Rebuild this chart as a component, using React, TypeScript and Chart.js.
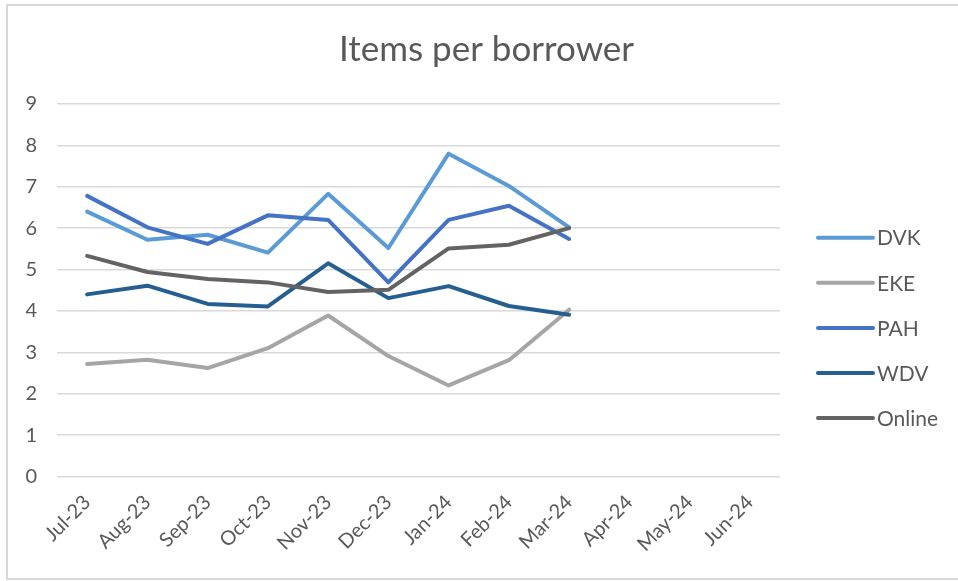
import React, { useEffect, useRef } from "react";
import { Chart, registerables, layouts } from "chart.js";

Chart.register(...registerables);

const categories = ["Jul-23", "Aug-23", "Sep-23", "Oct-23", "Nov-23", "Dec-23", "Jan-24", "Feb-24", "Mar-24", "Apr-24", "May-24", "Jun-24"];
const seriesNames = ["DVK", "EKE", "PAH", "WDV", "Online"];
const dvk = [6.4, 5.72, 5.84, 5.41, 6.83, 5.52, 7.8, 7.02, 6.02, null, null, null];
const eke = [2.72, 2.82, 2.62, 3.1, 3.89, 2.91, 2.2, 2.81, 4.03, null, null, null];
const pah = [6.78, 6.02, 5.62, 6.31, 6.2, 4.69, 6.2, 6.54, 5.74, null, null, null];
const wdv = [4.4, 4.61, 4.17, 4.11, 5.15, 4.31, 4.6, 4.12, 3.91, null, null, null];
const online = [5.33, 4.94, 4.77, 4.69, 4.46, 4.51, 5.51, 5.6, 6.0, null, null, null];
const seriesColors = ["#5B9BD5", "#A5A5A5", "#4472C4", "#255E91", "#636363"];
const yTicks = [0, 1, 2, 3, 4, 5, 6, 7, 8, 9];

const TEXT = "#595959";
const FONT = "Lato, 'Open Sans', sans-serif";
const LEGEND_SPACE = 187;

const frame = {
  id: "frame",
  beforeDraw(chart: any) {
    const { ctx, width, height } = chart;
    ctx.save();
    ctx.fillStyle = "#ffffff";
    ctx.fillRect(0, 0, width, height);
    ctx.strokeStyle = "#d9d9d9";
    ctx.lineWidth = 2;
    ctx.strokeRect(1, 1, width + 10, height - 3);
    ctx.restore();
  },
};

// reserves room at the right of the plot for the legend (title stays centred on the whole chart)
const legendSpace = {
  id: "legendSpace",
  beforeInit(chart: any) {
    const box: any = {
      position: "right",
      weight: 100,
      fullSize: false,
      options: {},
      left: 0, top: 0, right: 0, bottom: 0, width: LEGEND_SPACE, height: 0,
      isHorizontal() { return false; },
      update(_maxW: number, maxH: number) { this.width = LEGEND_SPACE; this.height = maxH; },
      getPadding() { return { left: 0, right: 0, top: 0, bottom: 0 }; },
      draw() {},
    };
    layouts.addBox(chart, box);
  },
};

const sideLegend = {
  id: "sideLegend",
  afterDraw(chart: any) {
    const { ctx, chartArea } = chart;
    const ds = chart.data.datasets;
    const x0 = chartArea.right + 38;
    const lineLen = 55;
    const yStart = 233.7;
    const step = 45.1;
    ctx.save();
    ctx.font = `21px ${FONT}`;
    ctx.textBaseline = "middle";
    ctx.textAlign = "left";
    ds.forEach((d: any, i: number) => {
      const y = yStart + i * step;
      ctx.strokeStyle = d.borderColor;
      ctx.lineWidth = 4;
      ctx.lineCap = "round";
      ctx.beginPath();
      ctx.moveTo(x0, y);
      ctx.lineTo(x0 + lineLen, y);
      ctx.stroke();
      ctx.fillStyle = TEXT;
      ctx.fillText(d.label, x0 + lineLen + 4, y + 1);
    });
    ctx.restore();
  },
};

export default function App() {
  const ref = useRef<HTMLCanvasElement | null>(null);
  useEffect(() => {
    if (!ref.current) return;
    const values = [dvk, eke, pah, wdv, online];
    const chart = new Chart(ref.current, {
      type: "line",
      data: {
        labels: categories,
        datasets: seriesNames.map((name, i) => ({
          label: name,
          data: values[i],
          borderColor: seriesColors[i],
          backgroundColor: seriesColors[i],
          borderWidth: 4,
          pointRadius: 0,
          tension: 0,
          fill: false,
          spanGaps: false,
          borderJoinStyle: "round" as const,
          borderCapStyle: "round" as const,
          order: seriesNames.length - i,
        })),
      },
      options: {
        responsive: false,
        animation: false,
        devicePixelRatio: 1,
        layout: { padding: 0 },
        plugins: {
          legend: { display: false },
          tooltip: { enabled: false },
          title: {
            display: true,
            text: "Items per borrower",
            color: TEXT,
            font: { family: FONT, size: 35, weight: "normal" },
            padding: { top: 25, bottom: 33 },
          },
        },
        scales: {
          x: {
            offset: true,
            grid: { display: false, drawTicks: false },
            border: { display: false },
            ticks: {
              color: TEXT,
              font: { family: FONT, size: 20 },
              minRotation: 45,
              maxRotation: 45,
              autoSkip: false,
              padding: 14,
            },
            afterFit(scale: any) {
              scale.height = 104.5;
            },
          },
          y: {
            min: 0,
            max: 9,
            afterBuildTicks(scale: any) {
              scale.ticks = yTicks.map((v) => ({ value: v }));
            },
            grid: { color: "#d9d9d9", lineWidth: 1.5, drawTicks: false },
            border: { display: false },
            ticks: {
              color: TEXT,
              font: { family: FONT, size: 20 },
              padding: 20,
            },
            afterFit(scale: any) {
              scale.width = 51;
            },
          },
        },
      },
      plugins: [legendSpace, frame, sideLegend],
    });
    return () => chart.destroy();
  }, []);

  return (
    <div style={{ position: "fixed", left: 0, top: 0, width: 958, height: 581, overflow: "hidden", background: "#fff" }}>
      <canvas
        ref={ref}
        width={961}
        height={577}
        style={{ position: "absolute", left: 6, top: 4, width: 961, height: 577 }}
      />
    </div>
  );
}
